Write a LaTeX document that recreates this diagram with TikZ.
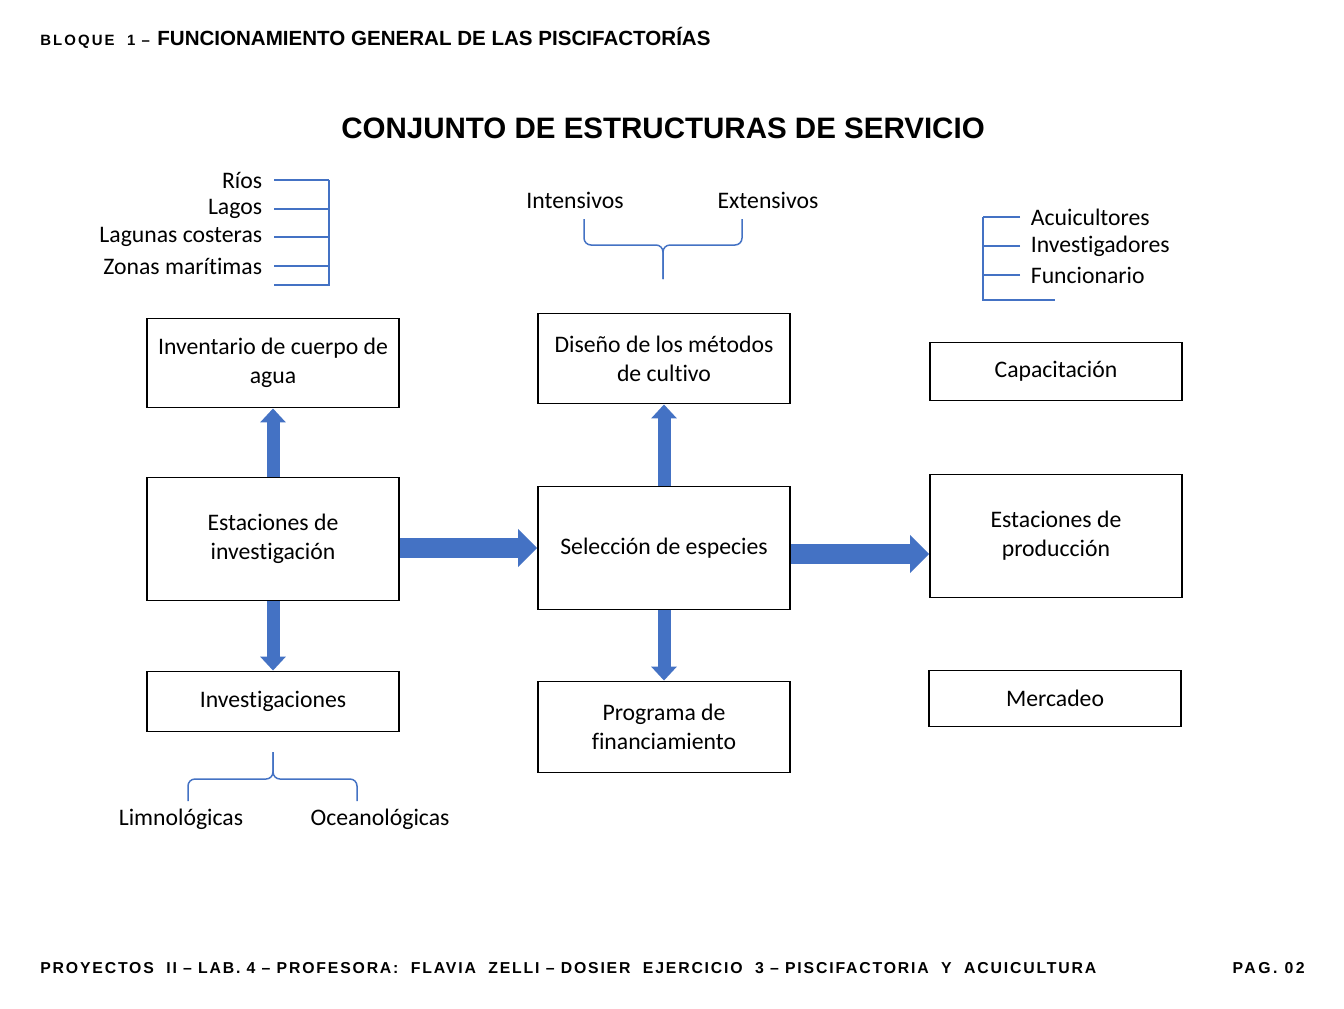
\documentclass[tikz,border=0pt]{standalone}
\usepackage{fontspec}
\setmainfont{Carlito}[Ligatures=NoCommon]
\newfontfamily\headfont{Liberation Sans}
\usepackage{tikz}
\usetikzlibrary{arrows.meta,positioning,calc}
\definecolor{pisblue}{RGB}{68,114,196}
\definecolor{pisdark}{RGB}{0,0,0}

\begin{document}
\begin{tikzpicture}[x=0.02cm, y=-0.02cm,
  every node/.style={font=\fontsize{13.5}{16.4}\selectfont},
  box/.style={draw=pisdark, line width=1.1pt, minimum width=5.04cm, align=center, inner sep=2pt},
  lbl/.style={inner sep=2pt},
  bline/.style={draw=pisblue, line width=0.85pt},
  vert/.style={draw=pisblue, line width=0.26cm, -{Triangle[length=0.28cm, width=0.5cm]}},
  horz/.style={draw=pisblue, line width=0.4cm, -{Triangle[length=0.38cm, width=0.74cm]}},
  head/.style={font=\headfont\bfseries\fontsize{11.7}{14}\selectfont, anchor=base west, inner sep=0pt},
  foot/.style={font=\headfont\bfseries\fontsize{9}{10}\selectfont\addfontfeature{LetterSpace=11.5}, inner sep=0pt}
]
  \path[fill=white, use as bounding box] (0,0) rectangle (1344,1008);

  \node[head, font=\headfont\bfseries\fontsize{8.5}{10}\selectfont\addfontfeature{LetterSpace=14}] (bloq) at (40,45.5) {BLOQUE~~1 –};
  \node[head] (funcgen) at (157,45.5) {FUNCIONAMIENTO GENERAL DE LAS PISCIFACTORÍAS};
  \node[font=\headfont\bfseries\fontsize{16.8}{19}\selectfont] (title) at (663,128) {CONJUNTO DE ESTRUCTURAS DE SERVICIO};

  \node[box, minimum height=1.78cm] (inv)  at (273,363)   {Inventario de cuerpo de\\agua};
  \node[box, minimum height=2.46cm] (est)  at (273,539)   {Estaciones de\\investigación};
  \node[box, minimum height=1.2cm]  (invs) at (273,701.5) {Investigaciones};
  \node[box, minimum height=1.8cm]  (dis)  at (664,358.5) {Diseño de los métodos\\de cultivo};
  \node[box, minimum height=2.46cm] (sel)  at (664,548)   {Selección de especies};
  \node[box, minimum height=1.82cm] (prog) at (664,727)   {Programa de\\financiamiento};
  \node[box, minimum height=1.16cm] (cap)  at (1056,371.5) {Capacitación};
  \node[box, minimum height=2.46cm] (estp) at (1056,536)  {Estaciones de\\producción};
  \node[box, minimum height=1.12cm] (merc) at (1055,698.5) {Mercadeo};

  \draw[vert] (est) -- (inv);
  \draw[vert] (est) -- (invs);
  \draw[vert] (sel) -- (dis);
  \draw[vert] (sel) -- (prog);
  \draw[horz] (est.east |- sel) -- (sel.west);
  \coordinate (selout) at ([yshift=-0.12cm]sel.east);
  \draw[horz] (selout) -- (selout -| estp.west);

  \node[lbl, anchor=east] (rios)    at (266,180) {Ríos};
  \node[lbl, anchor=east] (lagos)   at (266,209) {Lagos};
  \node[lbl, anchor=east] (lagunas) at (266,237) {Lagunas costeras};
  \node[lbl, anchor=east] (zonas)   at (266,266) {Zonas marítimas};
  \coordinate (lbar) at (329,285);
  \foreach \n in {rios,lagos,lagunas,zonas}
    \draw[bline] ([xshift=0.16cm]\n.east) -- (lbar |- \n);
  \draw[bline] (lbar |- rios) -- (lbar) -- ++(-55,0);

  \node[lbl] (intens) at (575,200) {Intensivos};
  \node[lbl] (extens) at (768,200) {Extensivos};
  \coordinate (ttip) at (663,279);
  \draw[bline, rounded corners=0.14cm] (584,219) -- (584,245) -- (ttip |- 0,245) -- (ttip);
  \draw[bline, rounded corners=0.14cm] (742,219) -- (742,245) -- (ttip |- 0,245) -- (ttip);

  \node[lbl, anchor=west] (acui)  at (1027,217) {Acuicultores};
  \node[lbl, anchor=west] (inves) at (1027,246) {Investigadores};
  \node[lbl, anchor=west] (func)  at (1027,275) {Funcionario};
  \coordinate (rbar) at (983,300);
  \foreach \n in {acui,inves,func}
    \draw[bline] ([xshift=-0.14cm]\n.west) -- (rbar |- \n);
  \draw[bline] (rbar |- acui) -- (rbar) -- ++(72,0);

  \node[lbl] (limno)  at (181,819) {Limnológicas};
  \node[lbl] (oceano) at (380,819) {Oceanológicas};
  \coordinate (btip) at (273,752);
  \draw[bline, rounded corners=0.14cm] (188,801) -- (188,779) -- (btip |- 0,779) -- (btip);
  \draw[bline, rounded corners=0.14cm] (357,801) -- (357,779) -- (btip |- 0,779) -- (btip);

  \node[foot, anchor=west] (pie) at (40,968) {PROYECTOS~~II – LAB. 4 – PROFESORA:~~FLAVIA~~ZELLI – DOSIER~~EJERCICIO~~3 – PISCIFACTORIA~~Y~~ACUICULTURA};
  \node[foot, anchor=east, font=\headfont\bfseries\fontsize{9}{10}\selectfont\addfontfeature{LetterSpace=16}] (pag) at (1305,968) {PAG. 02};
\end{tikzpicture}
\end{document}
